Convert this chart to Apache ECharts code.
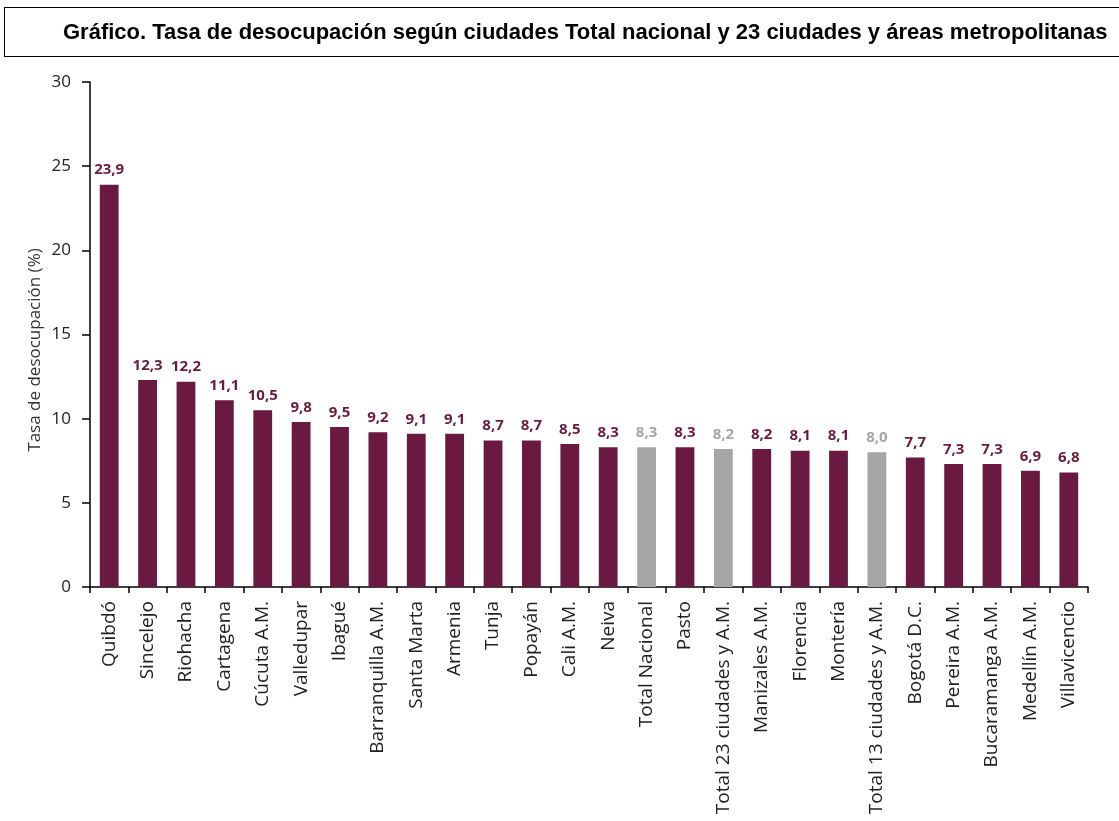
<!DOCTYPE html>
<html><head><meta charset="utf-8">
<script src="https://cdn.jsdelivr.net/npm/echarts@6/dist/echarts.min.js"></script>
<style>
html,body{margin:0;padding:0;background:#fff;overflow:hidden;}
#title{position:absolute;left:4px;top:7px;width:1130px;height:50px;border:1.5px solid #000;box-sizing:border-box;font-family:"Liberation Sans",Arial,sans-serif;font-weight:bold;font-size:22px;line-height:47px;padding-left:58px;color:#000;white-space:nowrap;}
#chart{position:absolute;left:0;top:0;width:1119px;height:821px;}
</style></head>
<body>
<div id="chart"></div>
<div id="title">Gráfico. Tasa de desocupación según ciudades Total nacional y 23 ciudades y áreas metropolitanas</div>
<script>
const categories = ["Quibdó","Sincelejo","Riohacha","Cartagena","Cúcuta A.M.","Valledupar","Ibagué","Barranquilla A.M.","Santa Marta","Armenia","Tunja","Popayán","Cali A.M.","Neiva","Total Nacional","Pasto","Total 23 ciudades y A.M.","Manizales A.M.","Florencia","Montería","Total 13 ciudades y A.M.","Bogotá D.C.","Pereira A.M.","Bucaramanga A.M.","Medellín A.M.","Villavicencio"];
const values = [23.9,12.3,12.2,11.1,10.5,9.8,9.5,9.2,9.1,9.1,8.7,8.7,8.5,8.3,8.3,8.3,8.2,8.2,8.1,8.1,8.0,7.7,7.3,7.3,6.9,6.8];
const totals = ["Total Nacional","Total 23 ciudades y A.M.","Total 13 ciudades y A.M."];
const yTicks = [0,5,10,15,20,25,30];
const yTitle = 'Tasa de desocupación (%)';

const MAROON = '#6A1A41', GRAY = '#A6A6A6';
const chart = echarts.init(document.getElementById('chart'));
chart.setOption({
  animation:false,
  grid:{left:90,right:31,top:82,bottom:234,containLabel:false},
  graphic:[{type:'text',x:35,y:350,rotation:Math.PI/2,
    style:{text:yTitle,fontFamily:'Open Sans',fontSize:17,fill:'#333',align:'center',verticalAlign:'middle'}}],
  xAxis:{type:'category',data:categories,
    axisLine:{lineStyle:{color:'#000',width:1.5}},
    axisTick:{show:true,alignWithLabel:false,length:6,lineStyle:{color:'#000',width:1.5}},
    axisLabel:{rotate:90,interval:0,fontFamily:'Open Sans',fontSize:19,color:'#222',margin:14}},
  yAxis:{type:'value',min:yTicks[0],max:yTicks[yTicks.length-1],interval:5,
    splitLine:{show:false},
    axisLine:{show:true,lineStyle:{color:'#000',width:1.5}},
    axisTick:{show:true,length:8,lineStyle:{color:'#000',width:1.5}},
    axisLabel:{fontFamily:'Open Sans',fontSize:17,color:'#222',margin:19}},
  series:[{type:'bar',barWidth:'49%',
    data:values.map((v,i)=>{const t=totals.includes(categories[i]);return {value:v,itemStyle:{color:t?GRAY:MAROON},
      label:{color:t?GRAY:MAROON}};}),
    label:{show:true,position:'top',distance:7,fontFamily:'Open Sans',fontWeight:'bold',fontSize:15,
      formatter:p=>p.value.toFixed(1).replace('.',',')}}]
});
</script>
</body></html>
